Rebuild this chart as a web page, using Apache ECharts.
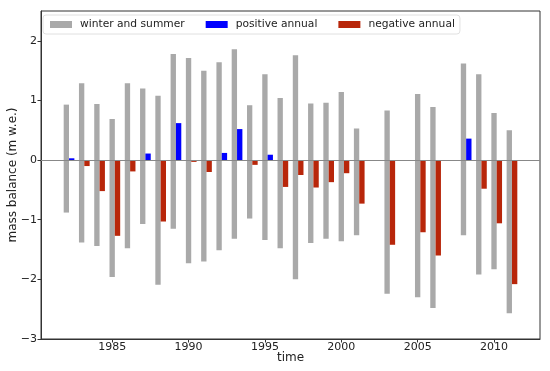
<!DOCTYPE html>
<html><head><meta charset="utf-8">
<script src="https://cdn.jsdelivr.net/npm/echarts@6/dist/echarts.min.js"></script>
<style>html,body{margin:0;padding:0;background:#fff}#c{width:550px;height:371px}</style>
</head><body><div id="c"></div>
<script>
var years  = [1982,1983,1984,1985,1986,1987,1988,1989,1990,1991,1992,1993,1994,1995,1996,1997,1998,1999,2000,2001,2003,2005,2006,2008,2009,2010,2011];
var winter = [0.93,1.29,0.94,0.69,1.29,1.20,1.08,1.78,1.71,1.50,1.64,1.86,0.92,1.44,1.04,1.76,0.95,0.96,1.14,0.53,0.83,1.11,0.89,1.62,1.44,0.79,0.50];
var summer = [-0.88,-1.38,-1.44,-1.96,-1.48,-1.07,-2.09,-1.15,-1.73,-1.70,-1.51,-1.32,-0.98,-1.34,-1.48,-2.00,-1.39,-1.32,-1.36,-1.26,-2.24,-2.30,-2.48,-1.26,-1.92,-1.83,-2.57];
var annual = [0.03,-0.10,-0.52,-1.27,-0.19,0.11,-1.03,0.62,-0.03,-0.20,0.12,0.52,-0.08,0.09,-0.45,-0.25,-0.46,-0.37,-0.22,-0.73,-1.42,-1.21,-1.60,0.36,-0.48,-1.06,-2.08];
var xTicks = [1985,1990,1995,2000,2005,2010];
var yTicks = [-3,-2,-1,0,1,2];

var W = 0.35;
function rectItem(x0, x1) {
  return function (params, api) {
    var x = api.value(0), v0 = api.value(1), v1 = api.value(2);
    var p0 = api.coord([x + x0, v0]);
    var p1 = api.coord([x + x1, v1]);
    return {
      type: 'rect',
      shape: { x: Math.min(p0[0], p1[0]), y: Math.min(p0[1], p1[1]), width: Math.abs(p1[0] - p0[0]), height: Math.abs(p1[1] - p0[1]) },
      style: { fill: api.visual('color') }
    };
  };
}
var wsData = years.map(function (y, i) { return [y, winter[i], summer[i]]; });
var posData = [], negData = [];
years.forEach(function (y, i) {
  if (annual[i] >= 0) posData.push([y, 0, annual[i]]); else negData.push([y, 0, annual[i]]);
});
var minus = function (v) { return String(v).replace('-', '\u2212'); };
var font = 'DejaVu Sans';
var chart = echarts.init(document.getElementById('c'));
chart.setOption({
  animation: false,
  textStyle: { fontFamily: font },
  grid: { left: 41, right: 10, top: 11, bottom: 32, containLabel: false, outerBoundsMode: 'none', show: true, borderColor: '#333', borderWidth: 1 },
  legend: {
    left: 43, top: 15, padding: [4, 5, 4, 7], itemWidth: 22, itemHeight: 7, itemGap: 21,
    backgroundColor: 'rgba(255,255,255,0.85)', borderColor: '#e0e0e0', borderWidth: 1, borderRadius: 3,
    textStyle: { fontFamily: font, fontSize: 10.7, color: '#222', padding: [0, 0, 0, 3] },
    data: [
      { name: 'winter and summer', icon: 'rect' },
      { name: 'positive annual', icon: 'rect' },
      { name: 'negative annual', icon: 'rect' }
    ]
  },
  xAxis: {
    type: 'value', min: 1980.34, max: 2013.01,
    name: 'time', nameLocation: 'middle', nameGap: 13, nameMoveOverlap: false,
    nameTextStyle: { fontFamily: font, fontSize: 12, color: '#222' },
    splitLine: { show: false },
    axisLine: { onZero: false, lineStyle: { color: '#333' } },
    axisTick: { length: 3.5, lineStyle: { color: '#333' }, customValues: xTicks },
    axisLabel: { fontFamily: font, fontSize: 11, color: '#222', margin: 3, customValues: xTicks, formatter: function (v) { return String(v); } }
  },
  yAxis: {
    type: 'value', min: -3, max: 2.5,
    name: 'mass balance (m w.e.)', nameLocation: 'middle', nameGap: 22, nameMoveOverlap: false,
    nameTextStyle: { fontFamily: font, fontSize: 12, color: '#222' },
    splitLine: { show: false },
    axisLine: { onZero: false, lineStyle: { color: '#333' } },
    axisTick: { length: 3.5, lineStyle: { color: '#333' }, customValues: yTicks },
    axisLabel: { fontFamily: font, fontSize: 11, color: '#222', margin: 4, customValues: yTicks, formatter: minus }
  },
  series: [
    { name: 'winter and summer', type: 'custom', renderItem: rectItem(-W / 2, W / 2), itemStyle: { color: '#a9a9a9' },
      encode: { x: 0, y: [1, 2] }, data: wsData,
      markLine: { silent: true, symbol: 'none', label: { show: false }, lineStyle: { color: '#888', width: 1, type: 'solid' }, data: [{ yAxis: 0 }] } },
    { name: 'positive annual', type: 'custom', renderItem: rectItem(W / 2, 1.5 * W), itemStyle: { color: '#0000ff' },
      encode: { x: 0, y: [1, 2] }, data: posData },
    { name: 'negative annual', type: 'custom', renderItem: rectItem(W / 2, 1.5 * W), itemStyle: { color: '#b8260a' },
      encode: { x: 0, y: [1, 2] }, data: negData }
  ]
});
</script></body></html>
